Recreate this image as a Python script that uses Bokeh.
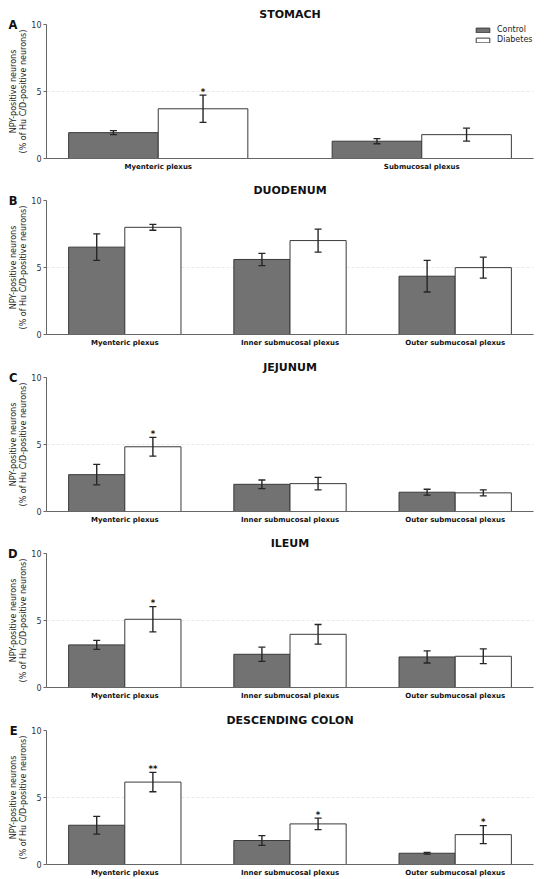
from bokeh.plotting import figure
from bokeh.models import (Range1d, FixedTicker, Whisker, TeeHead, ColumnDataSource,
                          Legend, LegendItem, LinearAxis)
from bokeh.layouts import column
from bokeh.embed import file_html
from bokeh.resources import INLINE
from bokeh.core.properties import value

# ---------------- data ----------------
titles = ["STOMACH", "DUODENUM", "JEJUNUM", "ILEUM", "DESCENDING COLON"]
letters = ["A", "B", "C", "D", "E"]
stomach_plexus = ["Myenteric plexus", "Submucosal plexus"]
gut_plexus = ["Myenteric plexus", "Inner submucosal plexus", "Outer submucosal plexus"]
series_names = ["Control", "Diabetes"]
y_ticks = [0, 5, 10]

stomach_control = [1.93, 1.29]
stomach_control_err = [0.15, 0.19]
stomach_diabetes = [3.71, 1.78]
stomach_diabetes_err = [1.02, 0.48]
stomach_sig = ["*", ""]

duodenum_control = [6.52, 5.60, 4.35]
duodenum_control_err = [0.99, 0.46, 1.18]
duodenum_diabetes = [8.00, 7.01, 4.99]
duodenum_diabetes_err = [0.22, 0.86, 0.78]
duodenum_sig = ["", "", ""]

jejunum_control = [2.75, 2.03, 1.44]
jejunum_control_err = [0.76, 0.32, 0.22]
jejunum_diabetes = [4.83, 2.08, 1.39]
jejunum_diabetes_err = [0.70, 0.46, 0.23]
jejunum_sig = ["*", "", ""]

ileum_control = [3.18, 2.48, 2.28]
ileum_control_err = [0.33, 0.53, 0.45]
ileum_diabetes = [5.09, 3.97, 2.33]
ileum_diabetes_err = [0.94, 0.73, 0.55]
ileum_sig = ["*", "", ""]

colon_control = [2.93, 1.79, 0.84]
colon_control_err = [0.66, 0.36, 0.07]
colon_diabetes = [6.15, 3.03, 2.23]
colon_diabetes_err = [0.72, 0.43, 0.67]
colon_sig = ["**", "*", "*"]

# ---------------- style ----------------
FONT = "DejaVu Sans"
BAR_W = 0.34
FRAME_W = 487
FRAME_H = 134
CTRL_FILL = "#727272"
EDGE = "#3a3a3a"
AXIS_C = "#666666"
ERR_C = "#262626"


def make_panel(idx, cats, ctrl, ctrl_err, diab, diab_err, sig, top, bottom, legend=False):
    n = len(cats)
    span = (n - 1) + 2 * BAR_W
    lo = -BAR_W - 0.05 * span
    hi = (n - 1) + BAR_W + 0.05 * span
    p = figure(frame_width=FRAME_W, frame_height=FRAME_H,
               x_range=Range1d(lo, hi), y_range=Range1d(0, 10),
               output_backend="svg", toolbar_location=None,
               min_border_left=46, min_border_right=17,
               min_border_top=top, min_border_bottom=bottom)
    p.outline_line_color = None
    p.background_fill_color = "white"
    p.border_fill_color = "white"

    p.title.text = titles[idx]
    p.title.align = "center"
    p.title.text_font = FONT
    p.title.text_font_style = "bold"
    p.title.text_font_size = "11px"
    p.title.text_color = "#111111"
    p.title.standoff = 8

    xs = list(range(n))
    xc = [x - BAR_W / 2 for x in xs]
    xd = [x + BAR_W / 2 for x in xs]

    rc = p.vbar(x=xc, top=ctrl, bottom=0, width=BAR_W, fill_color=CTRL_FILL,
                line_color=EDGE, line_width=1)
    rd = p.vbar(x=xd, top=diab, bottom=0, width=BAR_W, fill_color="white",
                line_color=EDGE, line_width=1)

    for xv, v, e in ((xc, ctrl, ctrl_err), (xd, diab, diab_err)):
        src = ColumnDataSource(dict(x=xv,
                                    upper=[a + b for a, b in zip(v, e)],
                                    lower=[a - b for a, b in zip(v, e)]))
        w = Whisker(base="x", upper="upper", lower="lower", source=src,
                    dimension="height", line_color=ERR_C, line_width=1.4,
                    level="annotation",
                    upper_head=TeeHead(size=7, line_color=ERR_C, line_width=1.3),
                    lower_head=TeeHead(size=7, line_color=ERR_C, line_width=1.3))
        p.add_layout(w)

    sx, sy, st = [], [], []
    for x, v, e, s in zip(xd, diab, diab_err, sig):
        if s:
            sx.append(x)
            sy.append(v + e + 0.25)
            st.append(s)
    if st:
        p.text(x=sx, y=sy, text=st, text_font=value(FONT), text_font_style="bold",
               text_font_size="8.5px", text_align="center", text_baseline="alphabetic",
               text_color="#111111")

    # axes
    p.xaxis.ticker = FixedTicker(ticks=xs)
    p.xaxis.major_label_overrides = {i: c for i, c in enumerate(cats)}
    p.xaxis.major_label_text_font = FONT
    p.xaxis.major_label_text_font_style = "bold"
    p.xaxis.major_label_text_font_size = "7px"
    p.xaxis.major_label_text_color = "#111111"
    p.xaxis.major_label_standoff = 4
    p.xaxis.major_tick_out = 0
    p.xaxis.major_tick_in = 0
    p.xaxis.minor_tick_out = 0
    p.xaxis.minor_tick_in = 0
    p.xaxis.axis_line_color = AXIS_C
    p.xaxis.axis_line_width = 1

    p.yaxis.ticker = FixedTicker(ticks=y_ticks)
    p.yaxis.major_label_text_font = FONT
    p.yaxis.major_label_text_font_size = "8px"
    p.yaxis.major_label_text_color = "#333333"
    p.yaxis.major_label_standoff = 2
    p.yaxis.major_tick_out = 3
    p.yaxis.major_tick_in = 0
    p.yaxis.minor_tick_out = 0
    p.yaxis.minor_tick_in = 0
    p.yaxis.major_tick_line_color = AXIS_C
    p.yaxis.axis_line_color = AXIS_C
    p.yaxis.axis_label = "NPY-positive neurons\n(% of Hu C/D-positive neurons)"
    p.yaxis.axis_label_text_font = FONT
    p.yaxis.axis_label_text_font_style = "normal"
    p.yaxis.axis_label_text_font_size = "8px"
    p.yaxis.axis_label_text_color = "#222222"
    p.yaxis.axis_label_standoff = 0

    # panel letter: an outer left axis with a single tick at the top of the scale
    la = LinearAxis(ticker=FixedTicker(ticks=[10]),
                    major_label_overrides={10: letters[idx]},
                    major_label_text_font=FONT, major_label_text_font_style="bold",
                    major_label_text_font_size="11.5px", major_label_text_color="#111111",
                    major_label_standoff=-12, major_tick_out=0, major_tick_in=0,
                    minor_tick_out=0, minor_tick_in=0, axis_line_color=None)
    p.add_layout(la, "left")

    p.xgrid.grid_line_color = None
    p.ygrid.ticker = FixedTicker(ticks=[5, 10])
    p.ygrid.grid_line_color = "#e3e3e3"
    p.ygrid.grid_line_dash = "3 2"
    p.ygrid.grid_line_width = 0.8

    if legend:
        lg = Legend(items=[LegendItem(label=series_names[0], renderers=[rc]),
                           LegendItem(label=series_names[1], renderers=[rd])],
                    location=(428, FRAME_H - 20))
        lg.border_line_color = None
        lg.background_fill_alpha = 0
        lg.padding = 0
        lg.margin = 0
        lg.spacing = 1
        lg.glyph_width = 17
        lg.glyph_height = 6
        lg.label_height = 9
        lg.label_standoff = 6
        lg.label_text_font = FONT
        lg.label_text_font_size = "8px"
        lg.label_text_color = "#222222"
        p.add_layout(lg)
    return p


pa = make_panel(0, stomach_plexus, stomach_control, stomach_control_err,
                stomach_diabetes, stomach_diabetes_err, stomach_sig, 24, 18, legend=True)
pb = make_panel(1, gut_plexus, duodenum_control, duodenum_control_err,
                duodenum_diabetes, duodenum_diabetes_err, duodenum_sig, 24, 19)
pc = make_panel(2, gut_plexus, jejunum_control, jejunum_control_err,
                jejunum_diabetes, jejunum_diabetes_err, jejunum_sig, 24, 18)
pd_ = make_panel(3, gut_plexus, ileum_control, ileum_control_err,
                 ileum_diabetes, ileum_diabetes_err, ileum_sig, 24, 19)
pe = make_panel(4, gut_plexus, colon_control, colon_control_err,
                colon_diabetes, colon_diabetes_err, colon_sig, 24, 14)

layout = column(pa, pb, pc, pd_, pe, spacing=0)
open("out.html", "w").write(file_html(layout, INLINE))
